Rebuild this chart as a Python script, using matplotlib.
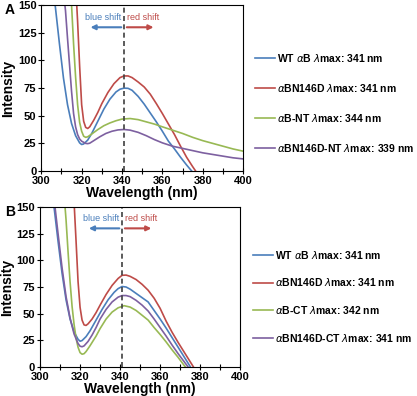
import numpy as np
import matplotlib.pyplot as plt
from matplotlib.ticker import MultipleLocator

plt.rcParams['font.family'] = ['Liberation Sans', 'DejaVu Sans']
plt.rcParams['mathtext.fontset'] = 'dejavusans'

BLUE, RED, GREEN, PURPLE = '#4a7ebb', '#be4b48', '#98b954', '#7d60a0'

# ---- panel A data ----
a_wt_wl = [305, 307, 309, 311, 313, 315, 317, 319, 320, 321, 323, 325, 328, 331, 334, 337, 339, 341,
           343, 345, 348, 351, 354, 357, 360, 363, 366, 369, 372, 375, 377]
a_wt_y = [175, 148, 115, 84, 60, 43, 32, 25.5, 24, 24.5, 28, 34, 45, 56, 65, 71.5, 74, 75,
          74.8, 73, 67.5, 60.5, 52.5, 44.5, 36, 27, 20, 12.5, 5.5, -1, -5]

a_n146d_wl = [315, 316, 317, 318, 319, 320, 321, 322, 323, 324, 326, 328, 330, 333, 336, 339, 341,
              343, 345, 348, 351, 354, 357, 360, 363, 366, 369, 372, 375, 378]
a_n146d_y = [215, 195, 170, 135, 95, 60, 45, 39.5, 38.5, 40, 46, 53, 61, 71, 79, 84.5, 86,
             86, 84.5, 80.5, 76, 69.5, 61, 52, 42.5, 33, 22.5, 12.5, 4, -4]

a_nt_wl = [312, 314, 315, 316, 317, 318, 319, 320, 321, 322, 323, 325, 328, 331, 334, 337, 340,
           344, 348, 352, 356, 360, 365, 370, 375, 380, 385, 390, 395, 400]
a_nt_y = [220, 172, 150, 115, 85, 60, 44, 36, 31.5, 30.5, 31, 33.5, 37.5, 41, 43.5, 45.5, 47,
          47.5, 46.5, 44.5, 42.5, 40, 37, 34, 30.5, 27.5, 25, 22.5, 20, 18]

a_n146dnt_wl = [309, 311, 312, 313, 314, 315, 316, 317, 318, 319, 320, 321, 322, 323, 324, 326, 329,
                332, 335, 338, 341, 344, 348, 352, 356, 360, 365, 370, 375, 380, 385, 390, 395, 400]
a_n146dnt_y = [200, 162, 145, 120, 96, 72, 52, 40, 33, 29, 27, 26, 25, 24.8, 25.2, 27.5, 31,
               34, 36, 37.2, 37.6, 37, 35, 32, 28.5, 25.5, 22.5, 20.5, 18.5, 16.5, 15, 13.5, 12, 11]

# ---- panel B data ----
b_wt_wl = [305, 307, 309, 311, 313, 315, 317, 319, 320, 321, 323, 325, 328, 331, 334, 337, 339, 341,
           343, 345, 348, 351, 354, 357, 360, 363, 366, 369, 372, 375, 377]
b_wt_y = [178, 150, 118, 88, 63, 45, 33, 26, 24.2, 24.8, 28.5, 34, 44, 54, 63, 70, 73.5, 75.5,
          75, 73, 69, 65, 61, 53, 45, 36.5, 27.5, 18.5, 9.5, 0.5, -6]

b_n146d_wl = [315, 316, 317, 318, 319, 320, 321, 322, 323, 324, 326, 328, 330, 333, 336, 339, 341,
              343, 345, 348, 351, 354, 357, 360, 363, 366, 369, 372, 375, 377, 379]
b_n146d_y = [210, 180, 155, 118, 80, 56, 44, 39.5, 39, 40.5, 45, 51, 58, 68, 76.5, 83, 86,
             86.2, 85, 82, 77.5, 72, 64.5, 55, 43, 32.5, 23, 14, 5, -1, -7]

b_ct_wl = [310, 312, 313, 314, 315, 316, 317, 318, 319, 320, 321, 322, 323, 325, 328, 330, 333, 336,
           339, 342, 345, 348, 351, 354, 357, 360, 363, 366, 369, 372, 375]
b_ct_y = [215, 162, 138, 108, 80, 57, 40, 27, 18.5, 13.5, 12, 12.5, 14.5, 20, 29, 36, 45, 51.5,
          55.5, 57.5, 56.2, 53, 48.5, 44, 37, 30.5, 23.5, 16, 9, 1.5, -5]

b_n146dct_wl = [305, 307, 309, 311, 313, 315, 317, 319, 320, 321, 322, 324, 326, 328, 330, 333, 336,
                339, 341, 343, 345, 348, 351, 354, 357, 360, 363, 366, 369, 372, 375, 377]
b_n146dct_y = [190, 158, 125, 93, 66, 46, 31, 22, 19.5, 19, 19.8, 24, 30, 37, 45, 54, 61,
               65.5, 67, 67, 66, 62.5, 58, 52.5, 45, 37, 29, 20.5, 12.5, 5, -2.5, -7]

a_labels = [r'WT $\alpha$B $\lambda$max: 341 nm',
            r'$\alpha$BN146D $\lambda$max: 341 nm',
            r'$\alpha$B-NT $\lambda$max: 344 nm',
            r'$\alpha$BN146D-NT $\lambda$max: 339 nm']
b_labels = [r'WT $\alpha$B $\lambda$max: 341 nm',
            r'$\alpha$BN146D $\lambda$max: 341 nm',
            r'$\alpha$B-CT $\lambda$max: 342 nm',
            r'$\alpha$BN146D-CT $\lambda$max: 341 nm']

peak_wl = 341

fig = plt.figure(figsize=(4.17, 3.96), dpi=100)
axA = fig.add_axes([0.099, 0.568, 0.484, 0.419])
axB = fig.add_axes([0.096, 0.0732, 0.48, 0.404])


def style_panel(ax, series, labels, leg_anchor, spacing):
    for (wl, y), c, lab in zip(series, [BLUE, RED, GREEN, PURPLE], labels):
        ax.plot(wl, y, color=c, lw=1.2, label=lab)
    ax.axvline(peak_wl, color='#404040', ls=(0, (3, 2)), lw=1.2)
    ax.annotate('', xy=(323, 130), xytext=(peak_wl, 130),
                arrowprops=dict(arrowstyle='-|>', color=BLUE, lw=1.5, mutation_scale=7))
    ax.annotate('', xy=(357, 130), xytext=(peak_wl, 130),
                arrowprops=dict(arrowstyle='-|>', color=RED, lw=1.5, mutation_scale=7))
    ax.text(339.5, 139, 'blue shift', color=BLUE, fontsize=6.5, ha='right', va='center')
    ax.text(342.5, 139, 'red shift', color=RED, fontsize=6.5, ha='left', va='center')
    ax.set_xlim(300, 400)
    ax.set_ylim(0, 150)
    ax.xaxis.set_major_locator(MultipleLocator(20))
    ax.xaxis.set_minor_locator(MultipleLocator(10))
    ax.yaxis.set_major_locator(MultipleLocator(25))
    ax.tick_params(which='both', direction='inout', length=4, width=0.8, labelsize=8, pad=1.5)
    for lab in ax.get_xticklabels() + ax.get_yticklabels():
        lab.set_fontweight('bold')
    ax.set_xlabel('Wavelength (nm)', fontsize=10, fontweight='bold', labelpad=0)
    ax.set_ylabel('Intensity', fontsize=10, fontweight='bold', labelpad=2)
    for s in ax.spines.values():
        s.set_linewidth(0.8)
    leg = ax.legend(loc='upper left', bbox_to_anchor=leg_anchor, frameon=False,
                    fontsize=7.5, handlelength=1.9, handletextpad=0.2,
                    labelspacing=spacing, borderaxespad=0)
    for t in leg.get_texts():
        t.set_fontweight('bold')


style_panel(axA,
            [(a_wt_wl, a_wt_y), (a_n146d_wl, a_n146d_y), (a_nt_wl, a_nt_y), (a_n146dnt_wl, a_n146dnt_y)],
            a_labels, (1.04, 0.745), 1.74)
style_panel(axB,
            [(b_wt_wl, b_wt_y), (b_n146d_wl, b_n146d_y), (b_ct_wl, b_ct_y), (b_n146dct_wl, b_n146dct_y)],
            b_labels, (1.045, 0.765), 1.5)

fig.text(5 / 417, 1 - 10 / 396, 'A', fontsize=10, fontweight='bold', va='center', ha='left')
fig.text(5 / 417, 1 - 212 / 396, 'B', fontsize=10, fontweight='bold', va='center', ha='left')

fig.savefig('out.png', dpi=100)
